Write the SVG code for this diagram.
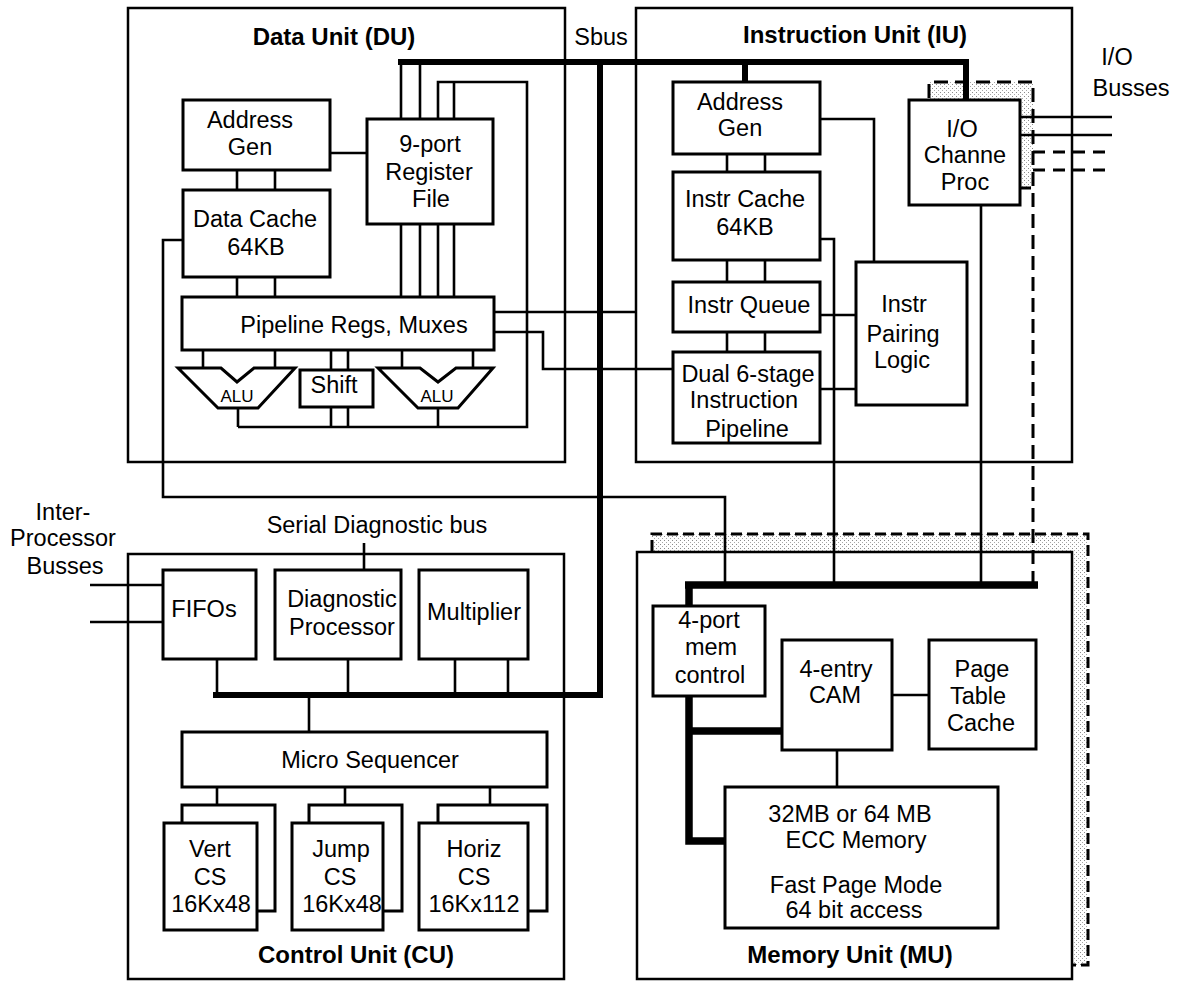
<svg xmlns="http://www.w3.org/2000/svg" width="1177" height="983" viewBox="0 0 1177 983">
  <style>
    text { font-family: "Liberation Sans", Arial, Helvetica, sans-serif; font-size: 23.5px; fill: #000; text-anchor: middle; }
    .title { font-weight: bold; font-size: 24px; }
    .small { font-size: 17px; }
    .unit { fill: none; stroke: #000; stroke-width: 2.5; }
    .box { fill: #fff; stroke: #000; stroke-width: 3; }
    .wire { fill: none; stroke: #000; stroke-width: 2.6; }
    .bus { fill: none; stroke: #000; stroke-width: 6; }
    .mbus { fill: none; stroke: #000; stroke-width: 7.5; }
    .dash { fill: none; stroke: #000; stroke-width: 3; }
    .shade { fill: url(#stipple); stroke: none; }
  </style>
  <defs>
    <pattern id="stipple" width="4" height="4" patternUnits="userSpaceOnUse">
      <rect width="4" height="4" fill="#fff"/>
      <rect x="0" y="0" width="1" height="1" fill="#8a8a8a"/>
      <rect x="2" y="2" width="1" height="1" fill="#a8a8a8"/>
    </pattern>
  </defs>
  <rect width="1177" height="983" fill="#fff"/>

  <!-- stippled areas around the optional I/O and memory paths -->
  <g id="shading">
    <polygon class="shade" points="929,82 1033,82 1033,188 1020,188 1020,100 929,100"/>
    <polygon class="shade" points="652,534 1088,534 1088,965 1072,965 1072,552 652,552"/>
  </g>

  <!-- unit outlines -->
  <g id="units">
    <rect id="du" class="unit" x="128" y="8" width="437" height="454"/>
    <rect id="iu" class="unit" x="636" y="8" width="436" height="454"/>
    <rect id="cu" class="unit" x="128" y="554" width="436" height="425"/>
    <rect id="mu" class="unit" x="637" y="552" width="435" height="427"/>
    <text class="title" x="334" y="45">Data Unit (DU)</text>
    <text class="title" x="855" y="43">Instruction Unit (IU)</text>
    <text class="title" x="356" y="963">Control Unit (CU)</text>
    <text class="title" x="850" y="963">Memory Unit (MU)</text>
    <text x="601" y="45">Sbus</text>
    <text x="1117" y="65">I/O</text>
    <text x="1131" y="96">Busses</text>
    <text x="63" y="520">Inter-</text>
    <text x="63" y="546">Processor</text>
    <text x="65" y="574">Busses</text>
    <text x="377" y="533">Serial Diagnostic bus</text>
  </g>

  <!-- connectors -->
  <g id="connectors">
    <!-- Data Unit -->
    <path class="wire" d="M237 170V190M275 170V190M237 277V297M275 277V297"/>
    <path class="wire" d="M330 153H367"/>
    <path class="wire" d="M401 62V119M420 62V119"/>
    <path class="wire" d="M438 119V82H527V427H238M454 82V119"/>
    <path class="wire" d="M401 224V297M420 224V297M438 224V297M454 224V297"/>
    <path class="wire" d="M203 350V368M275 350V368M331 350V370M348 350V370M402 350V368M473 350V368"/>
    <path class="wire" d="M238 408V427M331 407V427M348 407V427M438 408V427"/>
    <path class="wire" d="M183 240H163V497H725V585"/>
    <path class="wire" d="M494 312H636"/>
    <path class="wire" d="M494 332H543V369H673"/>
    <!-- Instruction Unit -->
    <path class="wire" d="M727 154V172M765 154V172M727 260V282M765 260V282M727 332V352M765 332V352"/>
    <path class="wire" d="M820 119H874V262"/>
    <path class="wire" d="M820 239H834V585"/>
    <path class="wire" d="M820 315H856M820 389H856"/>
    <path class="wire" d="M981 205V585"/>
    <path class="wire" d="M1020 117H1112M1020 135H1112"/>
    <!-- Control Unit -->
    <path class="wire" d="M90 585H163M90 622H163"/>
    <path class="wire" d="M364 543V570"/>
    <path class="wire" d="M217 659V695M348 659V695M455 659V695M508 659V695"/>
    <path class="wire" d="M309 695V732"/>
    <path class="wire" d="M217 787V823M345 787V823M490 787V823"/>
    <!-- Memory Unit -->
    <path class="wire" d="M892 695H929"/>
    <path class="wire" d="M837 750V787"/>
    <!-- heavy busses -->
    <path class="bus" d="M398 62H966V100"/>
    <path class="bus" d="M600 59V698"/>
    <path class="bus" d="M745 62V82"/>
    <path class="bus" d="M213 695H603"/>
    <path class="mbus" d="M685 585H1038"/>
    <path class="mbus" d="M689 585V606"/>
    <path class="mbus" d="M689 696V841H725"/>
    <path class="mbus" d="M689 731H782"/>
    <!-- optional (dashed) paths -->
    <path class="dash" stroke-dasharray="14 7" d="M929 98V82H1033V585"/>
    <path class="dash" stroke-dasharray="12 8" d="M1033 152H1112M1033 170H1112"/>
    <path class="dash" d="M1020 188H1031"/>
    <path class="dash" stroke-dasharray="11 5" d="M652 551V534H1088V965H1072"/>
  </g>

  <!-- Data Unit blocks -->
  <g id="du-addr-gen">
    <rect class="box" x="183" y="100" width="147" height="70"/>
    <text x="250" y="128">Address</text>
    <text x="250" y="155">Gen</text>
  </g>
  <g id="du-data-cache">
    <rect class="box" x="183" y="190" width="147" height="87"/>
    <text x="255" y="227">Data Cache</text>
    <text x="256" y="255">64KB</text>
  </g>
  <g id="du-register-file">
    <rect class="box" x="367" y="119" width="126" height="105"/>
    <text x="430" y="152">9-port</text>
    <text x="429" y="180">Register</text>
    <text x="431" y="207">File</text>
  </g>
  <g id="du-pipeline">
    <rect class="box" x="182" y="297" width="312" height="53"/>
    <text x="354" y="333">Pipeline Regs, Muxes</text>
  </g>
  <g id="du-alu-left">
    <polygon class="box" points="178,368 221,368 237,382 254,368 295,368 258,408 218,408"/>
    <text class="small" x="237" y="402">ALU</text>
  </g>
  <g id="du-shift">
    <rect class="box" x="300" y="370" width="73" height="37"/>
    <text x="334" y="393">Shift</text>
  </g>
  <g id="du-alu-right">
    <polygon class="box" points="378,368 420,368 438,382 456,368 493,368 458,408 418,408"/>
    <text class="small" x="437" y="402">ALU</text>
  </g>

  <!-- Instruction Unit blocks -->
  <g id="iu-addr-gen">
    <rect class="box" x="673" y="82" width="147" height="72"/>
    <text x="740" y="110">Address</text>
    <text x="740" y="136">Gen</text>
  </g>
  <g id="iu-instr-cache">
    <rect class="box" x="673" y="172" width="147" height="88"/>
    <text x="745" y="207">Instr Cache</text>
    <text x="745" y="235">64KB</text>
  </g>
  <g id="iu-instr-queue">
    <rect class="box" x="673" y="282" width="147" height="50"/>
    <text x="749" y="313">Instr Queue</text>
  </g>
  <g id="iu-pipeline">
    <rect class="box" x="673" y="352" width="147" height="91"/>
    <text x="748" y="382">Dual 6-stage</text>
    <text x="744" y="408">Instruction</text>
    <text x="747" y="437">Pipeline</text>
  </g>
  <g id="iu-pairing">
    <rect class="box" x="856" y="262" width="111" height="143"/>
    <text x="904" y="312">Instr</text>
    <text x="903" y="342">Pairing</text>
    <text x="902" y="368">Logic</text>
  </g>
  <g id="iu-io-proc">
    <rect class="box" x="909" y="100" width="111" height="105"/>
    <text x="962" y="137">I/O</text>
    <text x="965" y="163">Channe</text>
    <text x="965" y="190">Proc</text>
  </g>

  <!-- Control Unit blocks -->
  <g id="cu-fifos">
    <rect class="box" x="163" y="570" width="93" height="89"/>
    <text x="204" y="617">FIFOs</text>
  </g>
  <g id="cu-diag">
    <rect class="box" x="275" y="570" width="126" height="89"/>
    <text x="342" y="607">Diagnostic</text>
    <text x="342" y="635">Processor</text>
  </g>
  <g id="cu-multiplier">
    <rect class="box" x="419" y="570" width="109" height="89"/>
    <text x="474" y="620">Multiplier</text>
  </g>
  <g id="cu-sequencer">
    <rect class="box" x="182" y="732" width="365" height="55"/>
    <text x="370" y="768">Micro Sequencer</text>
  </g>
  <g id="cu-vert-cs">
    <rect class="box" x="182" y="805" width="93" height="106"/>
    <rect class="box" x="164" y="823" width="93" height="107"/>
    <text x="210" y="857">Vert</text>
    <text x="210" y="885">CS</text>
    <text x="211" y="912">16Kx48</text>
  </g>
  <g id="cu-jump-cs">
    <rect class="box" x="309" y="805" width="93" height="106"/>
    <rect class="box" x="292" y="823" width="91" height="107"/>
    <text x="341" y="857">Jump</text>
    <text x="340" y="885">CS</text>
    <text x="342" y="912">16Kx48</text>
  </g>
  <g id="cu-horiz-cs">
    <rect class="box" x="438" y="805" width="109" height="106"/>
    <rect class="box" x="419" y="823" width="109" height="107"/>
    <text x="474" y="857">Horiz</text>
    <text x="474" y="885">CS</text>
    <text x="474" y="912">16Kx112</text>
  </g>

  <!-- Memory Unit blocks -->
  <g id="mu-mem-control">
    <rect class="box" x="653" y="606" width="112" height="90"/>
    <text x="709" y="628">4-port</text>
    <text x="711" y="655">mem</text>
    <text x="710" y="683">control</text>
  </g>
  <g id="mu-cam">
    <rect class="box" x="782" y="640" width="110" height="110"/>
    <text x="836" y="677">4-entry</text>
    <text x="835" y="703">CAM</text>
  </g>
  <g id="mu-page-table">
    <rect class="box" x="929" y="640" width="107" height="109"/>
    <text x="982" y="677">Page</text>
    <text x="978" y="704">Table</text>
    <text x="981" y="731">Cache</text>
  </g>
  <g id="mu-memory">
    <rect class="box" x="725" y="787" width="273" height="141"/>
    <text x="850" y="822">32MB or 64 MB</text>
    <text x="856" y="848">ECC Memory</text>
    <text x="856" y="893">Fast Page Mode</text>
    <text x="854" y="918">64 bit access</text>
  </g>
</svg>
